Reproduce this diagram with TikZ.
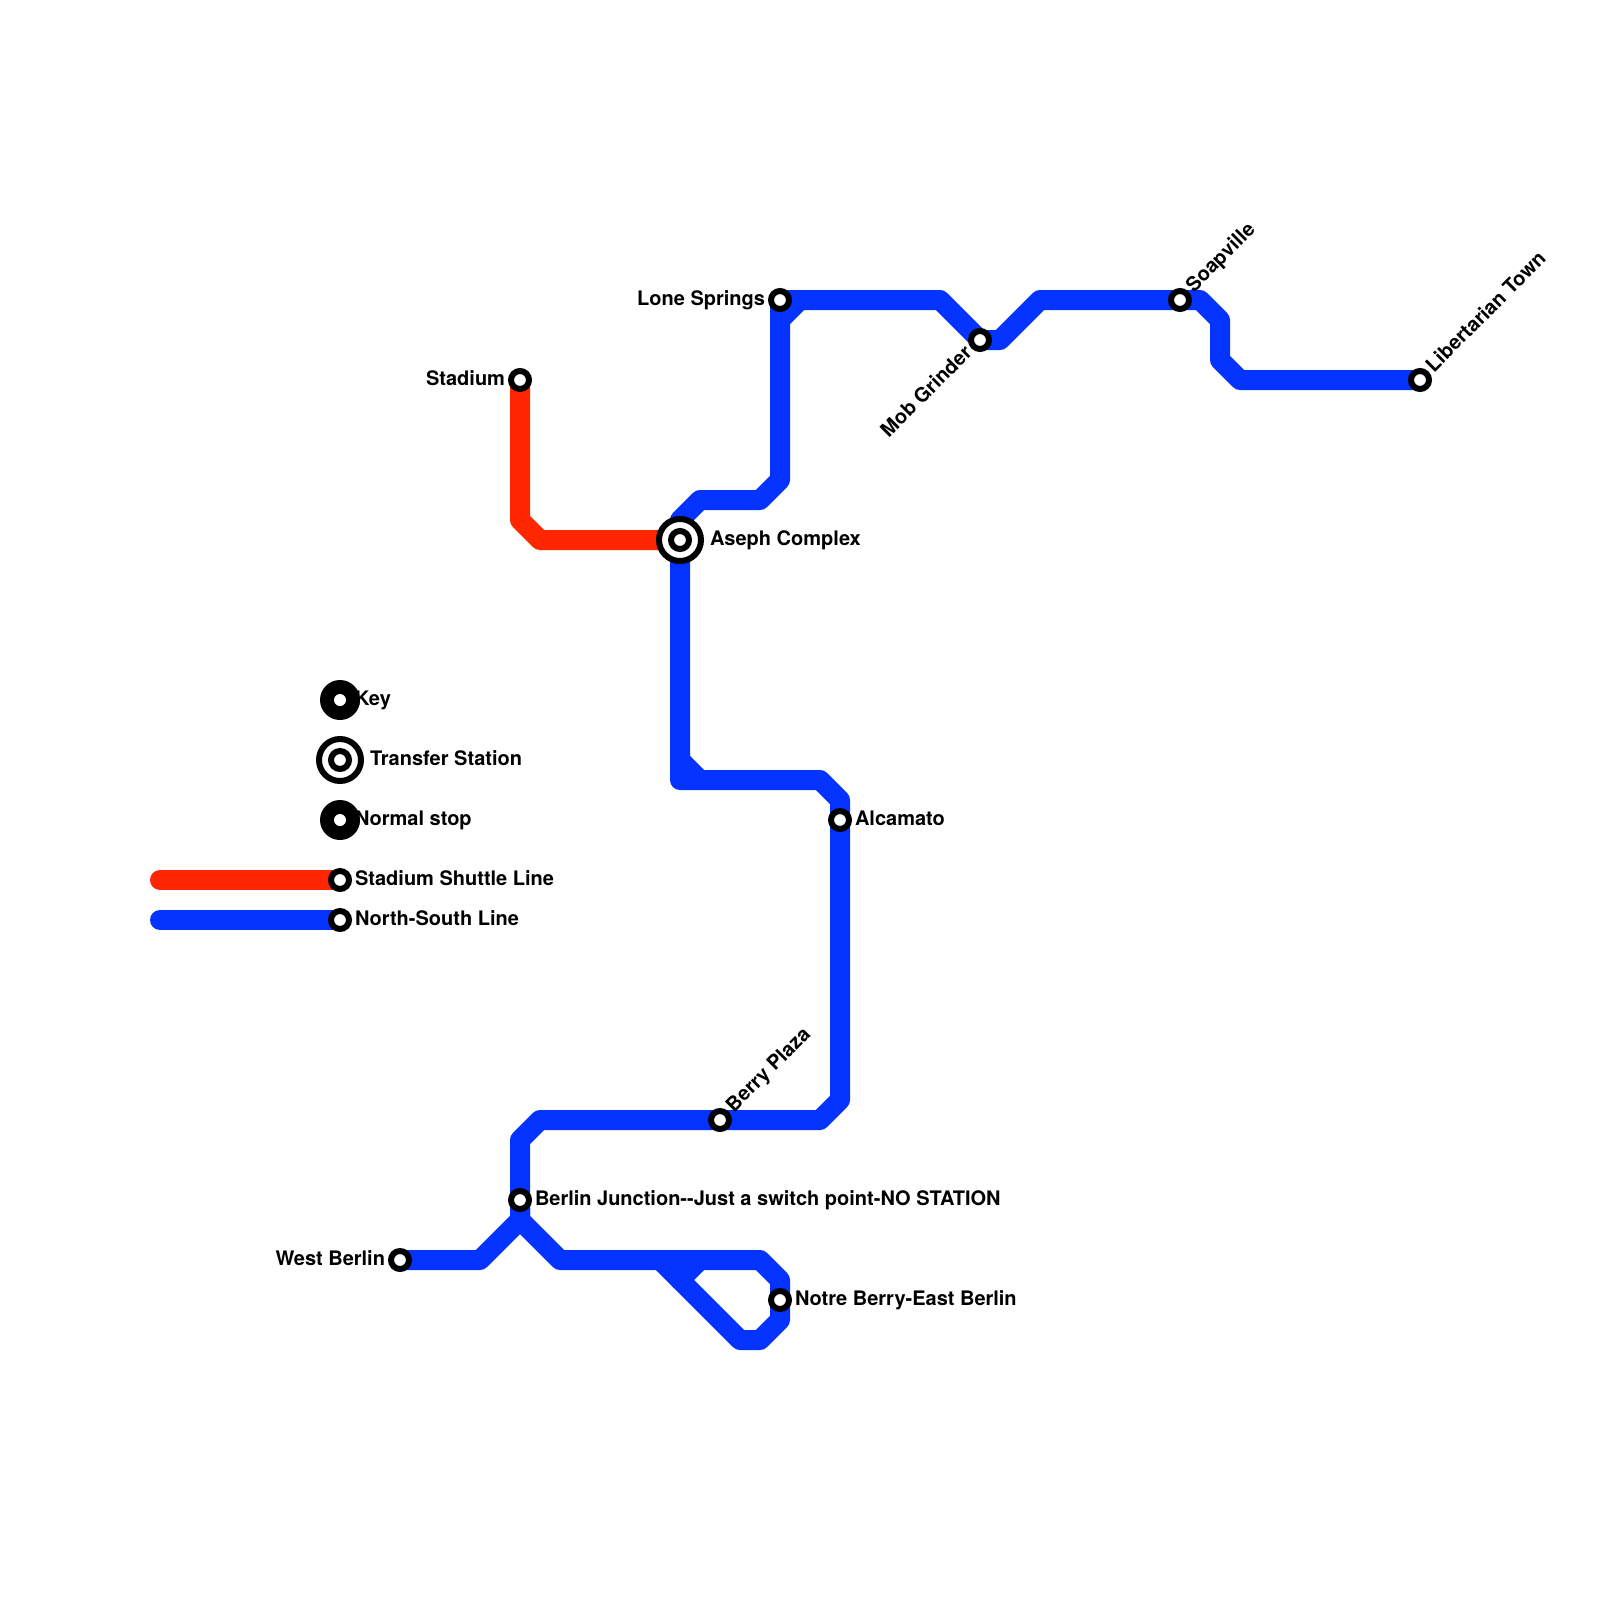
\documentclass[tikz,border=0pt]{standalone}
\usepackage{fontspec}
\setmainfont{TeX Gyre Heros}
\usetikzlibrary{backgrounds}
\definecolor{nsblue}{HTML}{0433FF}
\definecolor{shred}{HTML}{FF2600}
\tikzset{
  x=0.5pt,y=-0.5pt,
  blueline/.style={draw=nsblue,line width=10pt,line cap=round,line join=round},
  redline/.style={draw=shred,line width=10pt,line cap=round,line join=round},
  stn/.style={circle,draw=black,fill=white,line width=3pt,minimum size=9pt,inner sep=0pt},
  hub/.style={circle,draw=black,fill=white,line width=3pt,minimum size=21pt,inner sep=0pt},
  keydisc/.style={circle,fill=black,minimum size=20pt,inner sep=0pt},
  keydot/.style={circle,fill=white,minimum size=6pt,inner sep=0pt},
  lab/.style={font=\bfseries\fontsize{10}{12}\selectfont,text=black,inner sep=0pt,outer sep=0pt},
  labr/.style={lab,anchor=base west},
  labl/.style={lab,anchor=base east},
  labup/.style={lab,anchor=base west,rotate=45},
  labdn/.style={lab,anchor=base east,rotate=45},
}
\begin{document}
\begin{tikzpicture}
\useasboundingbox (0,0) rectangle (1600,1600);
% key discs
\node[keydisc] (keyA) at (340,700) {};
\node[keydot] (keyAd) at (340,700) {};
\node[keydisc] (keyC) at (340,820) {};
\node[keydot] (keyCd) at (340,820) {};
% stations
\node[hub] (asephO) at (680,540) {};
\node[stn] (aseph) at (680,540) {};
\node[stn] (stadium) at (520,380) {};
\node[stn] (lone) at (780,300) {};
\node[stn] (mob) at (980,340) {};
\node[stn] (soap) at (1180,300) {};
\node[stn] (lib) at (1420,380) {};
\node[stn] (alca) at (840,820) {};
\node[stn] (berry) at (720,1120) {};
\node[stn] (junc) at (520,1200) {};
\node[stn] (west) at (400,1260) {};
\node[stn] (notre) at (780,1300) {};
\node[hub] (keyBO) at (340,760) {};
\node[stn] (keyB) at (340,760) {};
\node[stn] (keyD) at (340,880) {};
\node[stn] (keyE) at (340,920) {};
\coordinate (keyDs) at (160,880);
\coordinate (keyEs) at (160,920);
\coordinate (spurA) at (700,780);
\coordinate (spurB) at (700,1260);
\coordinate (loopEnd) at (660,1260);
% lines
\begin{scope}[on background layer]
\fill[white] (0,0) rectangle (1600,1600);
\draw[redline] (keyDs) -- (keyD.center);
\draw[blueline] (keyEs) -- (keyE.center);
\draw[blueline] (aseph.center) -- (680,520) -- (700,500) -- (760,500) -- (780,480) -- (lone.center);
\draw[blueline] (780,320) -- (800,300);
\draw[blueline] (lone.center) -- (940,300) -- (mob.center);
\draw[blueline] (mob.center) -- (1000,340) -- (1040,300) -- (soap.center);
\draw[blueline] (soap.center) -- (1200,300) -- (1220,320) -- (1220,360) -- (1240,380) -- (lib.center);
\draw[blueline] (aseph.center) -- (680,780) -- (820,780) -- (840,800) -- (alca.center);
\draw[blueline] (680,760) -- (spurA);
\draw[blueline] (alca.center) -- (840,1100) -- (820,1120) -- (berry.center);
\draw[blueline] (berry.center) -- (540,1120) -- (520,1140) -- (junc.center);
\draw[blueline] (junc.center) -- (520,1220) -- (480,1260) -- (west.center);
\draw[blueline] (junc.center) -- (520,1220) -- (560,1260) -- (760,1260) -- (780,1280) -- (notre.center);
\draw[blueline] (notre.center) -- (780,1320) -- (760,1340) -- (740,1340) -- (loopEnd);
\draw[blueline] (680,1280) -- (spurB);
\draw[redline] (stadium.center) -- (520,520) -- (540,540) -- (aseph.center);
\end{scope}
% labels
\node[labr] (tKey) at (355,705) {Key};
\node[labr] (tTrans) at (370,765) {Transfer Station};
\node[labr] (tNorm) at (355,825) {Normal stop};
\node[labr] (tShut) at (355,885) {Stadium Shuttle Line};
\node[labr] (tNS) at (355,925) {North-South Line};
\node[labr] (tAseph) at (710,545) {Aseph Complex};
\node[labr] (tAlca) at (855,825) {Alcamato};
\node[labr] (tJunc) at (535,1205) {Berlin Junction{-}{-}Just a switch point-NO STATION};
\node[labr] (tNotre) at (795,1305) {Notre Berry-East Berlin};
\node[labl] (tStad) at (505,385) {Stadium};
\node[labl] (tLone) at (765,305) {Lone Springs};
\node[labl] (tWest) at (385,1265) {West Berlin};
\node[labup] (tBerry) at (734,1113) {Berry Plaza};
\node[labup] (tSoap) at (1194,293) {Soapville};
\node[labup] (tLib) at (1434,373) {Libertarian Town};
\node[labdn] (tMob) at (973,354) {Mob Grinder};
\end{tikzpicture}
\end{document}
